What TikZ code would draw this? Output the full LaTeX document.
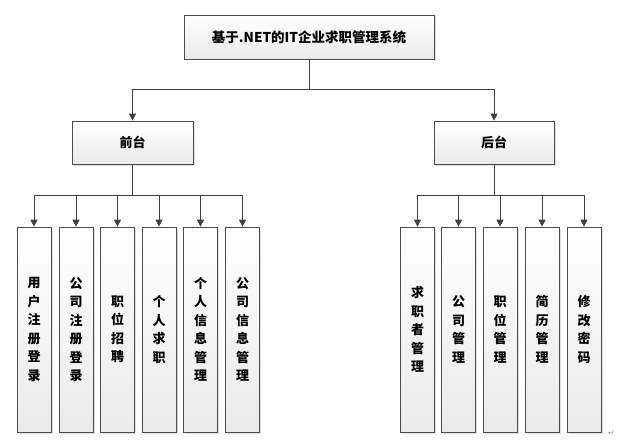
\documentclass[tikz,border=0pt]{standalone}
\usepackage{fontspec}
\usepackage{tikz}
\usetikzlibrary{arrows.meta}
\usetikzlibrary{shadows}
\newfontfamily\cjk{Noto Sans CJK SC}
\newfontfamily\symb{DejaVu Sans}

\begin{document}
\begin{tikzpicture}[x=1pt,y=-1pt,
box/.style={draw=black!70, line width=0.7pt, shade, top color=white, bottom color=black!8,
  drop shadow={shadow xshift=1.5pt, shadow yshift=-1.5pt, fill=black!20, opacity=0.6},
  inner sep=0pt, font={\cjk\bfseries\fontsize{13}{16}\selectfont}},
tall/.style={box, minimum width=34pt, minimum height=205pt, align=center,
  font={\cjk\bfseries\fontsize{13}{18.5}\selectfont}},
arr/.style={draw=black!75, line width=0.8pt, -{Triangle[width=7pt,length=7pt]}},
line/.style={draw=black!75, line width=0.8pt}]
\useasboundingbox (0,0) rectangle (634,441);
\node[box, minimum width=250pt, minimum height=44pt, font={\cjk\bfseries\fontsize{13.5}{16}\selectfont}] (sys) at (309,37) {基于.NET的IT企业求职管理系统};
\node[box, minimum width=121pt, minimum height=43pt] (front) at (132.5,142.5) {前台};
\node[box, minimum width=120pt, minimum height=43pt] (back) at (494,142.5) {后台};
\coordinate (sysbus) at (309,89);
\coordinate (frontbus) at (132.5,195);
\coordinate (backbus) at (494,195);
\draw[line] (sys.south) -- (sysbus);
\draw[arr] (sysbus) -| (front);
\draw[arr] (sysbus) -| (back);
\draw[line] (front.south) -- (frontbus);
\draw[line] (back.south) -- (backbus);
% front children
\foreach \x/\t [count=\i] in {34/{用\\户\\注\\册\\登\\录}, 76/{公\\司\\注\\册\\登\\录}, 117.5/{职\\位\\招\\聘},
  159/{个\\人\\求\\职}, 200.5/{个\\人\\信\\息\\管\\理}, 242.5/{公\\司\\信\\息\\管\\理}} {
  \node[tall] (f\i) at (\x,329.5) {\t};
  \draw[arr] (frontbus) -| (f\i);
}
% back children
\foreach \x/\t [count=\i] in {417.5/{求\\职\\者\\管\\理}, 458.5/{公\\司\\管\\理}, 500/{职\\位\\管\\理},
  542/{简\\历\\管\\理}, 584/{修\\改\\密\\码}} {
  \node[tall] (b\i) at (\x,329.5) {\t};
  \draw[arr] (backbus) -| (b\i);
}
\node[text=black!50, font={\symb\fontsize{7}{8}\selectfont}, inner sep=0pt] (mark) at (611,433) {↵};
\end{tikzpicture}
\end{document}
